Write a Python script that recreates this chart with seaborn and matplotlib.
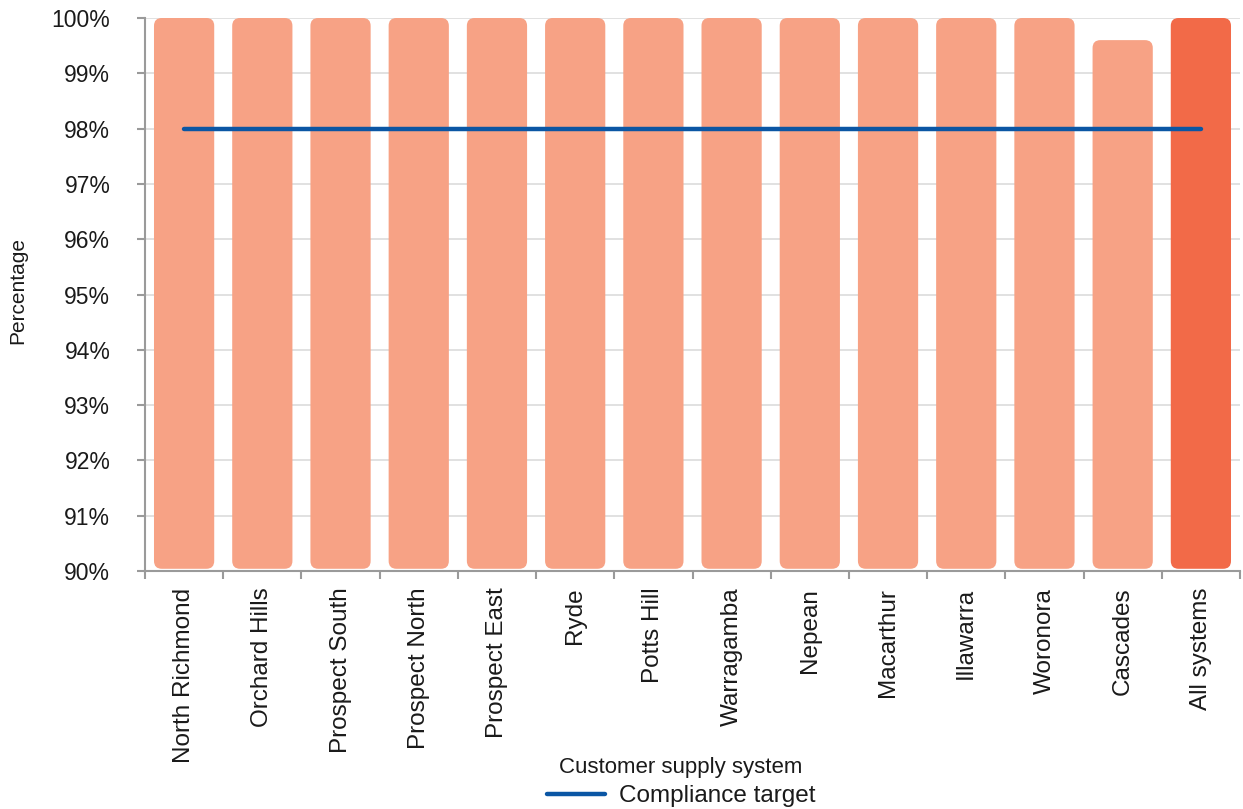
import numpy as np
import pandas as pd
import seaborn as sns
import matplotlib
matplotlib.use("Agg")
import matplotlib.pyplot as plt
from matplotlib.patches import FancyBboxPatch
from matplotlib.lines import Line2D

categories = ["North Richmond", "Orchard Hills", "Prospect South", "Prospect North",
              "Prospect East", "Ryde", "Potts Hill", "Warragamba", "Nepean",
              "Macarthur", "Illawarra", "Woronora", "Cascades", "All systems"]
values = [100, 100, 100, 100, 100, 100, 100, 100, 100, 100, 100, 100, 99.6, 100]
target = 98
y_ticks = [90, 91, 92, 93, 94, 95, 96, 97, 98, 99, 100]

light = "#F7A285"
dark = "#F26A48"
blue = "#0B56A4"

sns.set_theme(style="white")
plt.rcParams['font.family'] = ['Liberation Sans', 'DejaVu Sans']

df = pd.DataFrame({"system": categories, "pct": values})
palette = {c: (dark if c == "All systems" else light) for c in categories}

fig = plt.figure(figsize=(12.43, 8.09), dpi=100)
ax = fig.add_axes([145/1243, 1-571/809, 1095/1243, 553/809])

sns.barplot(data=df, x="system", y="pct", hue="system", palette=palette,
            width=0.77, legend=False, ax=ax, saturation=1, zorder=2)

# replace bars with rounded ones
base = 90.04
old = list(ax.patches)
for p in old:
    x, w, h = p.get_x(), p.get_width(), p.get_height()
    fc = p.get_facecolor()
    p.remove()
    fb = FancyBboxPatch((x, base), w, h - base,
                        boxstyle="round,pad=0,rounding_size=0.1",
                        mutation_aspect=78/55, facecolor=fc, edgecolor="none", zorder=2)
    ax.add_patch(fb)

ax.plot([0, len(categories) - 1], [target, target], color=blue, lw=3.2,
        solid_capstyle="round", zorder=3)

ax.set_ylim(90, 100)
ax.set_xlim(-0.5, len(categories) - 0.5)
ax.set_yticks(y_ticks)
ax.set_yticklabels([f"{t}%" for t in y_ticks])
ax.yaxis.grid(True, color="#dcdcdc", lw=1.2, zorder=0)
ax.set_axisbelow(True)

# ticks at category boundaries, labels at centres
ax.set_xticks(np.arange(len(categories) + 1) - 0.5)
ax.set_xticklabels([])
ax.set_xticks(np.arange(len(categories)), minor=True)
ax.set_xticklabels(categories, minor=True, rotation=90, fontsize=17.5, color="#1a1a1a")
ax.tick_params(axis="x", which="major", bottom=True, length=6, width=1.5,
               color="#9a9a9a", direction="out")
ax.tick_params(axis="x", which="minor", bottom=True, length=0, pad=12)
ax.tick_params(axis="y", left=True, length=6, width=1.5, color="#9a9a9a", direction="out",
               pad=19, labelsize=16.5, labelcolor="#1a1a1a")
for s in ["top", "right"]:
    ax.spines[s].set_visible(False)
for s in ["left", "bottom"]:
    ax.spines[s].set_color("#9a9a9a")
    ax.spines[s].set_linewidth(1.5)

ax.set_xlabel("Customer supply system", fontsize=16, color="#1a1a1a")
ax.xaxis.set_label_coords((681 - 145) / 1095, (571 - 757) / 553)
ax.set_ylabel("Percentage", fontsize=15, color="#1a1a1a")
ax.yaxis.set_label_coords((27 - 145) / 1095, (571 - 290) / 553)

handle = Line2D([], [], color=blue, lw=3.2, solid_capstyle="round")
fig.legend([handle], ["Compliance target"], loc="center", bbox_to_anchor=(0.548, 0.016),
           frameon=False, fontsize=17.5, handlelength=2.4, handletextpad=0.55,
           labelcolor="#1a1a1a")

fig.savefig("out.png", dpi=100)
